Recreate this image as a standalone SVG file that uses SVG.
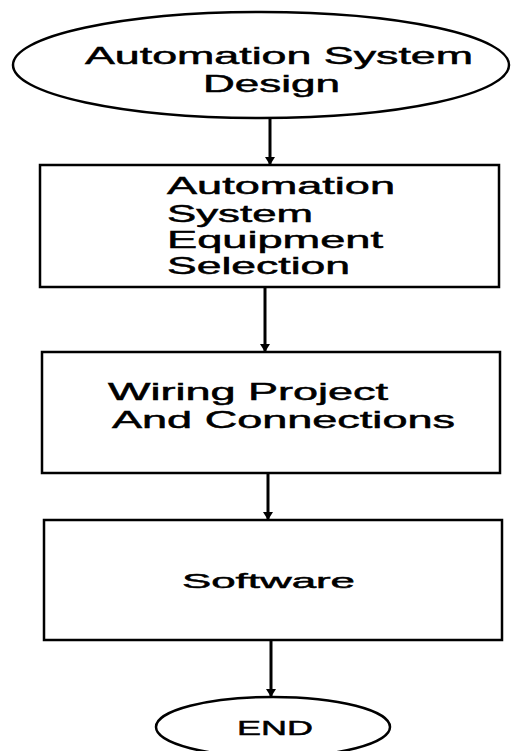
<svg xmlns="http://www.w3.org/2000/svg" width="512" height="751" viewBox="0 0 512 751">
<style>
.shape{fill:#fff;stroke:#000;stroke-width:2.5}
.lbl{font-family:"Liberation Sans",Arial,sans-serif;font-size:24px;fill:#000;stroke:#000;stroke-width:0.5}
.sm{font-size:21px}
.conn{stroke:#000;stroke-width:3;fill:none}
</style>
<defs>
<marker id="ah" markerWidth="8" markerHeight="10" refX="7" refY="5" orient="auto" markerUnits="userSpaceOnUse">
<path d="M0,0 L8,5 L0,10 z" fill="#000"/>
</marker>
</defs>
<rect width="512" height="751" fill="#fff"/>
<g id="connectors">
<line class="conn" x1="270" y1="118" x2="270" y2="164" marker-end="url(#ah)"/>
<line class="conn" x1="265" y1="288" x2="265" y2="351" marker-end="url(#ah)"/>
<line class="conn" x1="268" y1="474" x2="268" y2="519" marker-end="url(#ah)"/>
<line class="conn" x1="271" y1="641" x2="271" y2="696" marker-end="url(#ah)"/>
</g>
<g id="start">
<ellipse class="shape" cx="261" cy="65" rx="248" ry="53"/>
<text class="lbl" x="85" y="64" textLength="388" lengthAdjust="spacingAndGlyphs">Automation System</text>
<text class="lbl" x="203" y="92" textLength="137" lengthAdjust="spacingAndGlyphs">Design</text>
</g>
<g id="selection">
<rect class="shape" x="40" y="165" width="459" height="122"/>
<text class="lbl" x="167" y="194" textLength="228" lengthAdjust="spacingAndGlyphs">Automation</text>
<text class="lbl" x="167" y="222" textLength="146" lengthAdjust="spacingAndGlyphs">System</text>
<text class="lbl" x="167" y="248" textLength="216" lengthAdjust="spacingAndGlyphs">Equipment</text>
<text class="lbl" x="167" y="274" textLength="183" lengthAdjust="spacingAndGlyphs">Selection</text>
</g>
<g id="wiring">
<rect class="shape" x="42" y="352" width="458" height="121"/>
<text class="lbl" x="108" y="400" textLength="280" lengthAdjust="spacingAndGlyphs">Wiring Project</text>
<text class="lbl" x="112" y="428" textLength="343" lengthAdjust="spacingAndGlyphs">And Connections</text>
</g>
<g id="software">
<rect class="shape" x="44" y="520" width="458" height="120"/>
<text class="lbl sm" x="182" y="588" textLength="173" lengthAdjust="spacingAndGlyphs">Software</text>
</g>
<g id="end">
<ellipse class="shape" cx="273" cy="727" rx="117" ry="30"/>
<text class="lbl sm" x="237" y="735" textLength="76" lengthAdjust="spacingAndGlyphs">END</text>
</g>
</svg>
